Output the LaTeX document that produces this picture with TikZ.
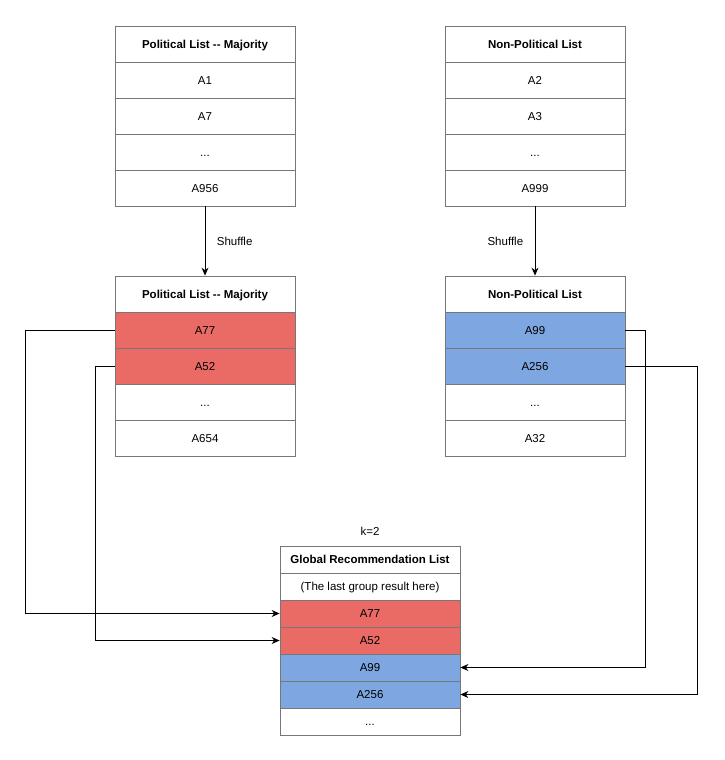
\documentclass[tikz,border=0pt]{standalone}
\usepackage{fontspec}
\setmainfont{Liberation Sans}
\usetikzlibrary{arrows.meta}
\definecolor{redrow}{HTML}{EA6B66}
\definecolor{bluerow}{HTML}{7EA6E0}
\definecolor{rowline}{HTML}{777777}
\begin{document}
\begin{tikzpicture}[x=1pt,y=-1pt,
  row/.style={draw=rowline,line width=0.8pt,fill=white,minimum width=180pt,minimum height=36pt,inner sep=0pt,
    text height=10.5pt,text depth=2.3pt,font=\fontsize{11.5}{13}\selectfont},
  head/.style={row,font=\fontsize{11.5}{13}\selectfont\bfseries},
  glrow/.style={row,minimum height=27pt},
  glhead/.style={head,minimum height=27pt},
  redfill/.style={fill=redrow}, bluefill/.style={fill=bluerow},
  lab/.style={font=\fontsize{11.5}{13}\selectfont},
  conn/.style={line width=1pt,-{Stealth[length=8pt,width=7pt]}}]

\useasboundingbox (0,0) rectangle (725,760);

% Original lists.
\node[head] (p1h) at (205,44) {Political List -{}- Majority};
\node[row]  (p1a) at (205,80) {A1};
\node[row]  (p1b) at (205,116) {A7};
\node[row]  (p1c) at (205,152) {...};
\node[row]  (p1d) at (205,188) {A956};

\node[head] (n1h) at (535,44) {Non-Political List};
\node[row]  (n1a) at (535,80) {A2};
\node[row]  (n1b) at (535,116) {A3};
\node[row]  (n1c) at (535,152) {...};
\node[row]  (n1d) at (535,188) {A999};

% Shuffled lists.
\node[head]         (p2h) at (205,294) {Political List -{}- Majority};
\node[row,redfill]  (p2a) at (205,330) {A77};
\node[row,redfill]  (p2b) at (205,366) {A52};
\node[row]          (p2c) at (205,402) {...};
\node[row]          (p2d) at (205,438) {A654};

\node[head]         (n2h) at (535,294) {Non-Political List};
\node[row,bluefill] (n2a) at (535,330) {A99};
\node[row,bluefill] (n2b) at (535,366) {A256};
\node[row]          (n2c) at (535,402) {...};
\node[row]          (n2d) at (535,438) {A32};

\draw[conn] (p1d.south) -- (p2h.north) node[lab,midway,right=8pt] {Shuffle};
\draw[conn] (n1d.south) -- (n2h.north) node[lab,midway,left=8pt] {Shuffle};

% Global list.
\node[lab] (k) at (370,531) {k=2};
\node[glhead]         (gh) at (370,559.5) {Global Recommendation List};
\node[glrow]          (g0) at (370,586.5) {(The last group result here)};
\node[glrow,redfill]  (g1) at (370,613.5) {A77};
\node[glrow,redfill]  (g2) at (370,640.5) {A52};
\node[glrow,bluefill] (g3) at (370,667.5) {A99};
\node[glrow,bluefill] (g4) at (370,694.5) {A256};
\node[glrow]          (g5) at (370,721.5) {...};

% Merge connectors.
\draw[conn] (p2a.west) -- ++(-89,0) |- (g1.west);
\draw[conn] (p2b.west) -- ++(-19,0) |- (g2.west);
\draw[conn] (n2a.east) -- ++(20,0) |- (g3.east);
\draw[conn] (n2b.east) -- ++(72,0) |- (g4.east);
\end{tikzpicture}
\end{document}
